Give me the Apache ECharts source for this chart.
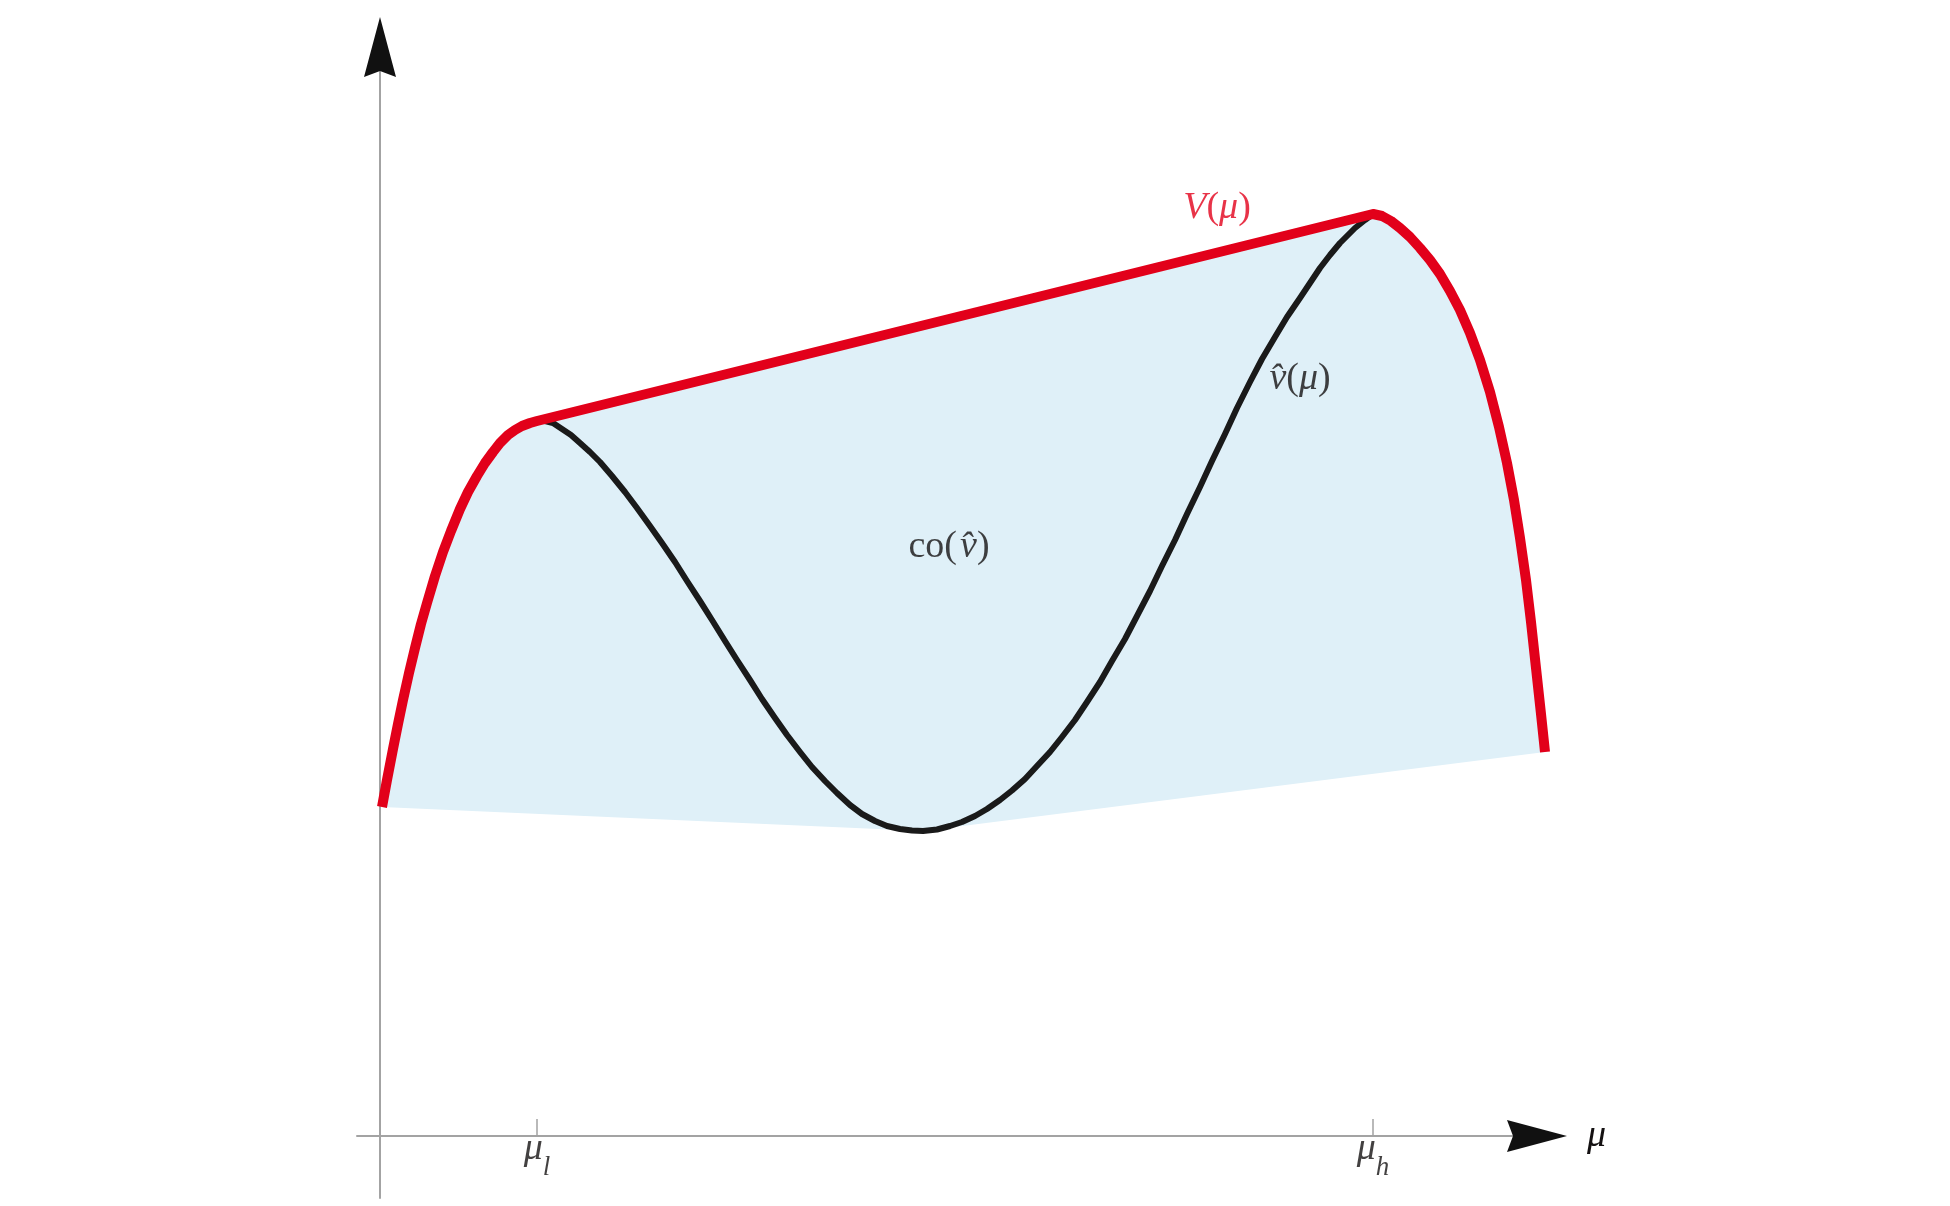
<!DOCTYPE html>
<html><head><meta charset="utf-8">
<script src="https://cdn.jsdelivr.net/npm/echarts@6/dist/echarts.min.js"></script>
<style>html,body{margin:0;padding:0;background:#fff}#c{width:1950px;height:1206px}</style>
</head><body><div id="c"></div>
<script>
// Axis ticks (μ_l, μ_h)
const muL = 1.57, muH = 9.93;
const tickValues = [muL, muH];
const tickSubs = ['l', 'h'];

// Upper concave envelope V(μ): left part (coincides with v̂), chord μ_l→μ_h, right part
const envelopeLeft = [[0.02,3.29],[0.07,3.56],[0.13,3.87],[0.18,4.12],[0.23,4.36],[0.29,4.63],[0.35,4.88],[0.41,5.12],[0.47,5.33],[0.55,5.60],[0.63,5.84],[0.71,6.05],[0.80,6.27],[0.88,6.44],[0.97,6.60],[1.05,6.73],[1.13,6.84],[1.20,6.93],[1.28,7.01],[1.35,7.06],[1.42,7.10],[1.50,7.13],[1.57,7.15]];
const envelopeRight = [[9.93,9.22],[10.02,9.20],[10.11,9.15],[10.20,9.08],[10.30,8.99],[10.40,8.88],[10.50,8.76],[10.60,8.62],[10.70,8.45],[10.80,8.26],[10.90,8.03],[11.00,7.76],[11.10,7.44],[11.19,7.09],[11.27,6.73],[11.34,6.36],[11.40,5.98],[11.46,5.56],[11.51,5.14],[11.56,4.68],[11.61,4.22],[11.65,3.84]];

// v̂(μ) between μ_l and μ_h
const vhatFall = [[1.57,7.15],[1.65,7.15],[1.73,7.13],[1.82,7.07],[1.91,7.01],[2.00,6.93],[2.10,6.84],[2.20,6.74],[2.32,6.60],[2.45,6.44],[2.57,6.28],[2.70,6.10],[2.82,5.93],[2.95,5.74],[3.07,5.55],[3.20,5.35],[3.32,5.16],[3.45,4.95],[3.57,4.76],[3.70,4.56],[3.82,4.37],[3.95,4.18],[4.07,4.01],[4.20,3.84],[4.32,3.69],[4.45,3.55],[4.57,3.43],[4.70,3.31],[4.82,3.22],[4.95,3.15],[5.07,3.10],[5.20,3.07],[5.32,3.055],[5.43,3.05]];
const vhatRise = [[5.43,3.05],[5.57,3.065],[5.70,3.10],[5.82,3.14],[5.95,3.20],[6.07,3.27],[6.20,3.36],[6.32,3.455],[6.45,3.57],[6.57,3.70],[6.70,3.84],[6.82,3.99],[6.95,4.16],[7.07,4.34],[7.20,4.54],[7.32,4.75],[7.45,4.97],[7.57,5.20],[7.70,5.45],[7.82,5.70],[7.95,5.96],[8.07,6.22],[8.20,6.49],[8.32,6.75],[8.45,7.02],[8.57,7.28],[8.70,7.54],[8.82,7.77],[8.95,7.99],[9.07,8.19],[9.20,8.38],[9.30,8.53],[9.40,8.68],[9.50,8.81],[9.60,8.93],[9.75,9.08],[9.85,9.16],[9.93,9.22]];

// lower boundary of the convex hull co(v̂)
const hullBottom = [[11.65,3.84],[5.43,3.05],[0.02,3.29]];

// text annotations
const labelNames = ['V(μ)', 'v̂(μ)', 'co(v̂)'];
const labelAnchors = [[8.37,9.28],[9.20,7.57],[5.69,5.89]];

const RED = '#e2001a', INK = '#141112', AXIS = '#a3a3a3', FILL = '#dff0f8';
const FONT = 'Liberation Serif';
const FS = 38, FS_SUB = 27;
const TICK_LABEL_Y = -0.13;

const envelope = envelopeLeft.concat(envelopeRight);
const vhat = vhatFall.concat(vhatRise.slice(1));
const hull = envelope.concat(hullBottom.slice(1));

const richText = {
  ri: {color: RED, fontFamily: FONT, fontStyle: 'italic', fontSize: FS},
  rr: {color: RED, fontFamily: FONT, fontSize: FS},
  ki: {color: INK, fontFamily: FONT, fontStyle: 'italic', fontSize: FS},
  kr: {color: INK, fontFamily: FONT, fontSize: FS},
  tm: {color: INK, fontFamily: FONT, fontStyle: 'italic', fontSize: FS, lineHeight: 64, verticalAlign: 'middle'},
  ts: {color: INK, fontFamily: FONT, fontStyle: 'italic', fontSize: FS_SUB, lineHeight: 27, verticalAlign: 'bottom'}
};
const labelRich = [
  '{ri|V}{rr|(}{ri|μ}{rr|)}',
  '{ki|v\u0302}{kr|(}{ki|μ}{kr|)}',
  '{kr|co(}{ki|\u200av\u0302}{kr|)}'
];

const annotationData = labelAnchors.map(function (p, i) {
  return {value: p, name: labelNames[i], text: labelRich[i]};
}).concat(tickValues.map(function (v, i) {
  return {value: [v, TICK_LABEL_Y], name: 'μ' + tickSubs[i], text: '{tm|μ}{ts|' + tickSubs[i] + '}'};
}));

const arrowPath = 'path://M0,0 L16,60 L0,54 L-16,60 Z';
const xMin = -0.23, xMax = 11.80, yMin = -0.62, yMax = 10.89;

const chart = echarts.init(document.getElementById('c'), null, {renderer: 'canvas'});
chart.setOption({
  animation: false,
  backgroundColor: '#fff',
  grid: {left: 357, right: 390, top: 47, bottom: 8, containLabel: false, outerBoundsMode: 'none'},
  xAxis: [{
    type: 'value', min: xMin, max: xMax,
    axisLine: {show: true, onZero: true, lineStyle: {color: AXIS, width: 2}},
    axisTick: {show: true, inside: true, length: 17, customValues: tickValues, lineStyle: {color: AXIS, width: 1.5}},
    axisLabel: {show: false},
    splitLine: {show: false},
    name: 'μ', nameLocation: 'end', nameGap: 27,
    nameTextStyle: {fontFamily: FONT, fontStyle: 'italic', fontSize: FS, color: INK, verticalAlign: 'middle', align: 'left'}
  }, {
    type: 'value', min: xMin, max: xMax, position: 'bottom',
    axisLine: {show: true, onZero: true, symbol: ['none', arrowPath], symbolSize: [32, 60], symbolOffset: [0, -23], lineStyle: {color: '#111', width: 0}},
    axisTick: {show: false}, axisLabel: {show: false}, splitLine: {show: false}
  }],
  yAxis: [{
    type: 'value', min: yMin, max: yMax,
    axisLine: {show: true, onZero: true, lineStyle: {color: AXIS, width: 2}},
    axisTick: {show: false}, axisLabel: {show: false}, splitLine: {show: false}
  }, {
    type: 'value', min: yMin, max: yMax, position: 'left',
    axisLine: {show: true, onZero: true, symbol: ['none', arrowPath], symbolSize: [32, 60], lineStyle: {color: '#111', width: 0}},
    axisTick: {show: false}, axisLabel: {show: false}, splitLine: {show: false}
  }],
  series: [{
    type: 'custom', name: 'co', clip: false, z: 1,
    data: [[0, 0]],
    renderItem: function (params, api) {
      return {type: 'polygon', shape: {points: hull.map(function (p) { return api.coord(p); })}, style: {fill: FILL}};
    },
    silent: true
  }, {
    type: 'line', name: 'vhat', data: vhat, showSymbol: false, smooth: false, clip: false, z: 3,
    lineStyle: {color: '#1a1a1a', width: 6, join: 'round'}
  }, {
    type: 'line', name: 'V', data: envelope, showSymbol: false, smooth: false, clip: false, z: 4,
    lineStyle: {color: RED, width: 10, join: 'round'}
  }, {
    type: 'scatter', name: 'labels', z: 5, symbolSize: 1, itemStyle: {color: 'rgba(0,0,0,0)'}, clip: false,
    data: annotationData,
    label: {
      show: true, position: 'inside',
      formatter: function (p) { return annotationData[p.dataIndex].text; },
      rich: richText
    }
  }]
});
</script>
</body></html>
